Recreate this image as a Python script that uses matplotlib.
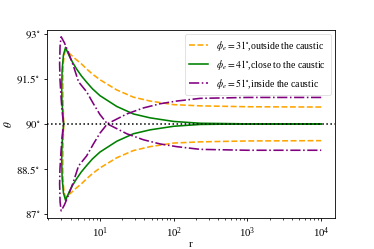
import matplotlib
matplotlib.use("Agg")
import matplotlib.pyplot as plt

plt.rcParams['font.family'] = 'serif'
plt.rcParams['font.serif'] = ['Liberation Serif', 'DejaVu Serif']
plt.rcParams['mathtext.fontset'] = 'stix'

# ---- data (r, theta in degrees) ----
orange_r = [10000, 1000, 229, 100, 47.8, 28.4, 16.9, 10, 7.9, 6.59, 5.6, 4.82, 4.3, 3.91, 3.65, 3.52, 3.42,
            3.28, 3.18, 3.14, 3.15, 3.18, 3.22,
            3.18, 3.15, 3.14, 3.18, 3.28,
            3.42, 3.52, 3.65, 3.91, 4.3, 4.82, 5.6, 6.59, 7.9, 10, 16.9, 28.4, 47.8, 100, 229, 1000, 10000]
orange_theta = [90.56, 90.57, 90.60, 90.64, 90.76, 90.89, 91.13, 91.47, 91.66, 91.83, 92.0, 92.13, 92.24, 92.33, 92.39, 92.42, 92.45,
                92.3, 92.0, 91.5, 91.0, 90.5, 90.0,
                89.5, 89.0, 88.5, 88.0, 87.7,
                87.55, 87.58, 87.61, 87.67, 87.76, 87.87, 88.0, 88.17, 88.34, 88.53, 88.87, 89.11, 89.24, 89.36, 89.40, 89.43, 89.44]

green_r = [10000, 1000, 229, 100, 47.8, 28.4, 16.9, 10, 7.9, 6.59, 5.6, 4.82, 4.3, 3.91, 3.65, 3.52, 3.42,
           3.2, 3.07, 3.03, 3.05, 3.12, 3.22,
           3.12, 3.05, 3.03, 3.07, 3.2,
           3.42, 3.52, 3.65, 3.91, 4.3, 4.82, 5.6, 6.59, 7.9, 10, 16.9, 28.4, 47.8, 100, 229, 1000, 10000]
green_theta = [90.0, 90.0, 90.02, 90.08, 90.2, 90.33, 90.58, 90.94, 91.17, 91.39, 91.6, 91.83, 92.03, 92.22, 92.38, 92.47, 92.55,
               92.3, 91.8, 91.2, 90.8, 90.4, 90.0,
               89.6, 89.2, 88.8, 88.2, 87.7,
               87.45, 87.53, 87.62, 87.78, 87.97, 88.17, 88.4, 88.61, 88.83, 89.06, 89.42, 89.67, 89.8, 89.92, 89.98, 90.0, 90.0]

purple_r = [10000, 1000, 229, 110, 65.5, 38.8, 23.1, 12.6, 10, 8.11, 6.59, 5.13, 4.34, 3.71, 3.3, 2.98,
            2.88, 2.84, 2.87, 2.95, 3.05, 3.2,
            3.05, 2.95, 2.87, 2.84, 2.88,
            2.98, 3.3, 3.71, 4.34, 5.13, 6.59, 8.11, 10, 12.6, 23.1, 38.8, 65.5, 110, 229, 1000, 10000]
purple_theta = [90.88, 90.88, 90.85, 90.76, 90.67, 90.53, 90.33, 90.0, 89.69, 89.32, 88.93, 88.6, 88.05, 87.6, 87.3, 87.1,
                87.4, 88.0, 88.5, 89.0, 89.5, 90.0,
                90.5, 91.0, 91.5, 92.0, 92.6,
                92.9, 92.7, 92.4, 91.95, 91.4, 91.07, 90.68, 90.31, 90.0, 89.67, 89.47, 89.33, 89.24, 89.15, 89.12, 89.12]

labels = [r'$\phi_e=31^{\circ}$,outside the caustic',
          r'$\phi_e=41^{\circ}$,close to the caustic',
          r'$\phi_e=51^{\circ}$,inside the caustic']
ytick_vals = [87, 88.5, 90, 91.5, 93]
ytick_labels = [r'$87^{\circ}$', r'$88.5^{\circ}$', r'$90^{\circ}$', r'$91.5^{\circ}$', r'$93^{\circ}$']

fig = plt.figure(figsize=(3.74, 2.49), dpi=100)
ax = fig.add_axes([0.125, 0.123, 0.772, 0.758])

ax.plot(orange_r, orange_theta, color='orange', ls='--', lw=1.15, label=labels[0])
ax.plot(green_r, green_theta, color='green', ls='-', lw=1.15, label=labels[1])
ax.plot(purple_r, purple_theta, color='purple', ls='-.', lw=1.15, label=labels[2])
ax.axhline(90, color='black', ls=':', lw=1.1)

ax.set_xscale('log')
ax.set_xlim(1.9, 1.56e4)
ax.set_ylim(86.85, 93.14)
ax.set_yticks(ytick_vals)
ax.set_yticklabels(ytick_labels)
ax.tick_params(labelsize=7.8, length=2.5, width=0.6, pad=2.5)
ax.tick_params(which='minor', length=1.5, width=0.5)
for s in ax.spines.values():
    s.set_linewidth(0.6)

ax.set_xlabel('r', fontsize=7.8, labelpad=0)
ax.set_ylabel(r'$\theta$', fontsize=8, labelpad=2)

leg = ax.legend(loc='upper right', fontsize=7.0, handlelength=2.0, borderpad=0.45,
                labelspacing=0.5, frameon=True)
leg.get_frame().set_linewidth(0.5)

fig.savefig('out.png', dpi=100)
